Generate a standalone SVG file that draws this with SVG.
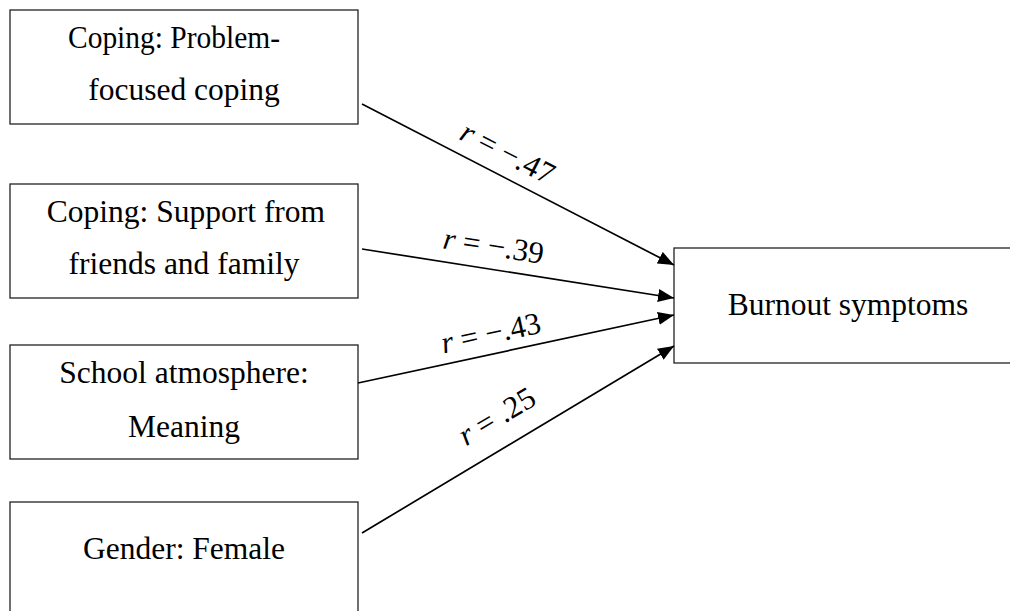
<svg xmlns="http://www.w3.org/2000/svg" width="1010" height="611" viewBox="0 0 1010 611">
<defs>
<marker id="ah" viewBox="0 0 16 13" refX="16" refY="6.5" markerWidth="16" markerHeight="13" markerUnits="userSpaceOnUse" orient="auto">
<path d="M0,0 L16,6.5 L0,13 z" fill="#000"/>
</marker>
<style>
.box{fill:#fff;stroke:#222;stroke-width:1.3}
.t{font-family:"Liberation Serif","Times New Roman",serif;font-size:31.5px;fill:#000;text-anchor:middle}
.lbl{font-family:"Liberation Serif","Times New Roman",serif;font-size:31px;fill:#000;text-anchor:middle}
.conn{stroke:#000;stroke-width:1.7;fill:none}
</style>
</defs>
<rect width="1010" height="611" fill="#fff"/>
<g id="n1">
<rect class="box" x="10" y="10" width="348" height="114"/>
<text class="t" x="174" y="48" textLength="212" lengthAdjust="spacingAndGlyphs">Coping: Problem-</text>
<text class="t" x="184" y="100">focused coping</text>
</g>
<g id="n2">
<rect class="box" x="10" y="184" width="348" height="114"/>
<text class="t" x="186" y="222">Coping: Support from</text>
<text class="t" x="184" y="274">friends and family</text>
</g>
<g id="n3">
<rect class="box" x="10" y="345" width="348" height="114"/>
<text class="t" x="184" y="383">School atmosphere:</text>
<text class="t" x="184" y="437">Meaning</text>
</g>
<g id="n4">
<rect class="box" x="10" y="502" width="348" height="130"/>
<text class="t" x="184" y="559">Gender: Female</text>
</g>
<g id="n5">
<rect class="box" x="674" y="248" width="360" height="115"/>
<text class="t" x="848" y="315">Burnout symptoms</text>
</g>
<g id="connectors">
<line class="conn" x1="362" y1="104" x2="674" y2="265" marker-end="url(#ah)"/>
<line class="conn" x1="362" y1="249" x2="674" y2="298" marker-end="url(#ah)"/>
<line class="conn" x1="358" y1="383" x2="674" y2="315" marker-end="url(#ah)"/>
<line class="conn" x1="362" y1="533" x2="674" y2="346" marker-end="url(#ah)"/>
<text class="lbl" transform="translate(503,162) rotate(27.3)"><tspan font-style="italic">r</tspan> = −.47</text>
<text class="lbl" transform="translate(492,256) rotate(8.9)"><tspan font-style="italic">r</tspan> = −.39</text>
<text class="lbl" transform="translate(493,343) rotate(-12.1)"><tspan font-style="italic">r</tspan> = −.43</text>
<text class="lbl" transform="translate(502,425) rotate(-30.9)"><tspan font-style="italic">r</tspan> = .25</text>
</g>
</svg>
